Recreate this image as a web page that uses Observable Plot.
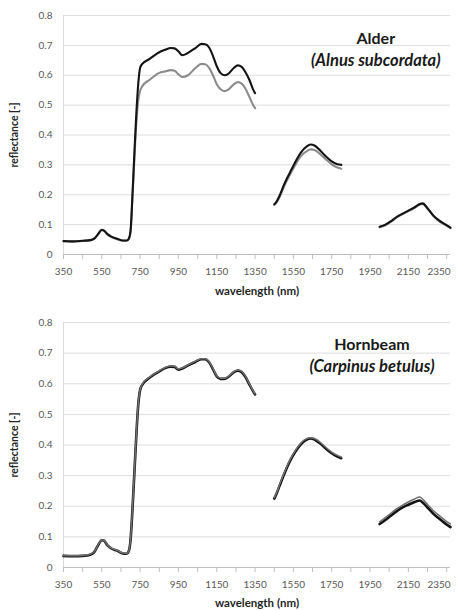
<!DOCTYPE html>
<html>
<head>
<meta charset="utf-8">
<script src="https://cdn.jsdelivr.net/npm/d3@7"></script>
<script src="https://cdn.jsdelivr.net/npm/@observablehq/plot@0.6"></script>
<style>
  body { margin: 0; background: #fff; }
  #chart { width: 456px; }
  #chart svg { display: block; }
</style>
</head>
<body>
<div id="chart"></div>
<script>
// Wavelength sample points (nm) for the three measured bands
const wl1 = [350,400,450,490,510,530,550,560,580,600,630,660,680,690,700,710,720,730,740,750,760,800,850,880,910,930,950,970,1000,1040,1070,1090,1110,1130,1150,1170,1190,1210,1240,1260,1280,1300,1320,1340,1350];
const wl2 = [1450,1460,1480,1500,1530,1560,1590,1620,1640,1660,1690,1720,1750,1780,1800];
const wl3 = [2000,2030,2060,2090,2120,2150,2180,2210,2225,2250,2280,2310,2340,2370];

// Alder (Alnus subcordata)
const alderBlack1 = [0.045,0.044,0.046,0.048,0.053,0.068,0.083,0.081,0.068,0.060,0.053,0.047,0.047,0.052,0.080,0.200,0.340,0.470,0.570,0.625,0.637,0.655,0.677,0.685,0.691,0.690,0.680,0.667,0.675,0.692,0.705,0.704,0.693,0.665,0.630,0.607,0.600,0.605,0.625,0.633,0.628,0.610,0.585,0.552,0.540];
const alderGray1  = [0.044,0.043,0.045,0.047,0.052,0.067,0.081,0.079,0.066,0.058,0.051,0.046,0.046,0.051,0.075,0.190,0.320,0.440,0.515,0.548,0.562,0.585,0.608,0.613,0.617,0.615,0.603,0.594,0.600,0.625,0.638,0.637,0.625,0.600,0.570,0.553,0.547,0.552,0.570,0.577,0.572,0.555,0.528,0.500,0.490];
const alderBlack2 = [0.168,0.175,0.200,0.232,0.272,0.310,0.342,0.362,0.368,0.365,0.348,0.328,0.312,0.302,0.300];
const alderGray2  = [0.166,0.172,0.196,0.226,0.265,0.300,0.330,0.346,0.352,0.350,0.336,0.318,0.302,0.291,0.287];
const alderBlack3 = [0.093,0.100,0.112,0.126,0.137,0.147,0.157,0.169,0.171,0.155,0.131,0.114,0.102,0.090];
const alderGray3  = [0.091,0.098,0.110,0.124,0.135,0.145,0.155,0.167,0.169,0.153,0.129,0.112,0.100,0.088];

// Hornbeam (Carpinus betulus)
const hornBlack1 = [0.038,0.037,0.038,0.042,0.050,0.072,0.089,0.088,0.072,0.062,0.055,0.046,0.045,0.052,0.090,0.190,0.310,0.430,0.530,0.580,0.595,0.620,0.640,0.651,0.656,0.655,0.646,0.650,0.660,0.672,0.680,0.680,0.670,0.648,0.624,0.616,0.616,0.622,0.638,0.643,0.638,0.622,0.598,0.575,0.565];
const hornGray1  = [0.039,0.038,0.039,0.043,0.051,0.073,0.090,0.089,0.073,0.063,0.056,0.047,0.046,0.053,0.092,0.193,0.313,0.433,0.533,0.582,0.597,0.622,0.642,0.653,0.658,0.657,0.648,0.652,0.662,0.674,0.682,0.682,0.672,0.650,0.626,0.618,0.618,0.624,0.640,0.645,0.640,0.624,0.600,0.577,0.567];
const hornBlack2 = [0.225,0.238,0.270,0.302,0.345,0.378,0.403,0.418,0.421,0.418,0.405,0.388,0.373,0.362,0.357];
const hornGray2  = [0.228,0.241,0.274,0.306,0.349,0.382,0.407,0.421,0.424,0.421,0.409,0.392,0.377,0.366,0.361];
const hornBlack3 = [0.142,0.155,0.170,0.184,0.196,0.205,0.213,0.219,0.212,0.196,0.176,0.160,0.145,0.132];
const hornGray3  = [0.149,0.163,0.178,0.192,0.204,0.214,0.223,0.230,0.223,0.206,0.186,0.170,0.155,0.142];

const yTicks = [0,0.1,0.2,0.3,0.4,0.5,0.6,0.7,0.8];
const xMinorTicks = d3.range(350, 2351, 100);
const xLastTick = [2350];

function rows(v1, v2, v3) {
  return [[wl1, v1], [wl2, v2], [wl3, v3]].flatMap(([w, v], s) =>
    w.map((x, i) => ({wl: x, r: v[i], seg: s})));
}

const font = "Lato, 'Open Sans', sans-serif";

function panel({height, marginTop, marginBottom, black, gray, grayOnTop, title, subtitle, titleX, titleY, subY, xLabelOffset}) {
  const blackLine = Plot.line(black, {x: "wl", y: "r", z: "seg", stroke: "#141414", strokeWidth: grayOnTop ? 2.6 : 2.1, curve: "monotone-x"});
  const grayLine = Plot.line(gray, {x: "wl", y: "r", z: "seg", stroke: grayOnTop ? "#6e6e6e" : "#8c8c8c", strokeWidth: grayOnTop ? 1.5 : 2.1, curve: "monotone-x"});
  return Plot.plot({
    width: 456,
    height,
    marginTop,
    marginBottom,
    marginLeft: 63,
    marginRight: 6,
    style: {fontFamily: font, fontSize: "10px", color: "#595959", background: "#fff"},
    x: {domain: [350, 2370]},
    y: {domain: [0, 0.8]},
    marks: [
      Plot.gridY(yTicks.slice(1), {stroke: "#dedede", strokeOpacity: 1, strokeWidth: 1}),
      Plot.ruleX([350], {stroke: "#d9d9d9", strokeWidth: 1}),
      Plot.axisY({ticks: yTicks, tickSize: 0, tickPadding: 11, tickFormat: d => d === 0 ? "0" : d.toFixed(1),
        label: "reflectance [-]", labelAnchor: "center", labelArrow: false, labelOffset: 53,
        fill: "#595959", fontSize: 10}),
      Plot.axisX({ticks: xMinorTicks, tickSize: 5, tickPadding: 8, stroke: "#bfbfbf",
        tickFormat: d => (d - 350) % 200 === 0 && d < 2350 ? String(d) : "",
        label: "wavelength (nm)", labelAnchor: "center", labelArrow: false, labelOffset: xLabelOffset,
        fill: "#595959", fontSize: 10}),
      Plot.axisX({ticks: xLastTick, tickSize: 0, tickPadding: 13, textAnchor: "end", dx: 4,
        tickFormat: d => String(d), label: null, fill: "#595959", fontSize: 10}),
      Plot.ruleY([0], {stroke: "#bfbfbf", strokeWidth: 1}),
      ...(grayOnTop ? [blackLine, grayLine] : [grayLine, blackLine]),
      Plot.text([title], {x: titleX, y: titleY, text: d => d, fontWeight: "bold", fontSize: 16, fill: "#1a1a1a"}),
      Plot.text([subtitle], {x: titleX, y: subY, text: d => d, fontWeight: "bold", fontStyle: "italic", fontSize: 16.5, fill: "#1a1a1a"})
    ]
  });
}

const topPanel = panel({height: 300, marginTop: 15, marginBottom: 46,
  black: rows(alderBlack1, alderBlack2, alderBlack3), gray: rows(alderGray1, alderGray2, alderGray3),
  grayOnTop: false, title: "Alder", subtitle: "(Alnus subcordata)", titleX: 1980, titleY: 0.722, subY: 0.648, xLabelOffset: 40});
const bottomPanel = panel({height: 310, marginTop: 22, marginBottom: 43,
  black: rows(hornBlack1, hornBlack2, hornBlack3), gray: rows(hornGray1, hornGray2, hornGray3),
  grayOnTop: true, title: "Hornbeam", subtitle: "(Carpinus betulus)", titleX: 1960, titleY: 0.728, subY: 0.655, xLabelOffset: 39});

// bold axis labels
for (const svg of [topPanel, bottomPanel]) {
  svg.querySelectorAll("g[aria-label='x-axis label'] text").forEach(t => {
    t.setAttribute("font-weight", "bold");
    t.setAttribute("font-size", "11.5");
    t.setAttribute("fill", "#262626");
  });
  svg.querySelectorAll("g[aria-label='y-axis label'] text").forEach(t => {
    t.setAttribute("font-weight", "bold");
    t.setAttribute("font-size", "10.5");
    t.setAttribute("fill", "#262626");
  });
}
document.getElementById("chart").append(topPanel, bottomPanel);
</script>
</body>
</html>
